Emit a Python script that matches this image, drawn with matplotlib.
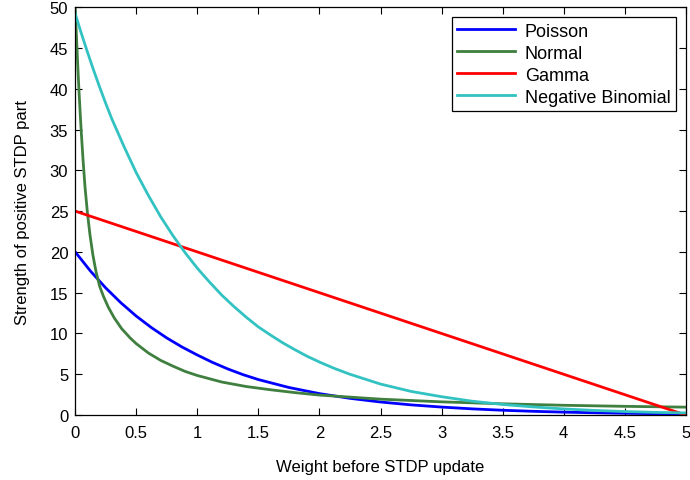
import numpy as np
import matplotlib
matplotlib.use('Agg')
import matplotlib.pyplot as plt

# values
x_poisson = [0, 0.125, 0.25, 0.375, 0.5, 0.625, 0.75, 0.875, 1, 1.125, 1.25, 1.375, 1.5, 1.75, 2, 2.25, 2.5,
             2.75, 3, 3.25, 3.5, 3.75, 4, 4.25, 4.5, 4.75, 5]
y_poisson = [20, 17.65, 15.58, 13.75, 12.13, 10.71, 9.45, 8.34, 7.36, 6.45, 5.65, 4.95, 4.35, 3.38, 2.63, 2.05,
             1.6, 1.25, 0.98, 0.76, 0.59, 0.46, 0.36, 0.28, 0.22, 0.17, 0.13]

x_normal = [0, 0.005, 0.01, 0.02, 0.03, 0.04, 0.05, 0.065, 0.08, 0.1, 0.12, 0.145, 0.17, 0.2, 0.23, 0.27,
            0.32, 0.38, 0.45, 0.5, 0.6, 0.7, 0.8, 0.9, 1, 1.2, 1.4, 1.6, 1.8, 2, 2.5, 3, 3.5, 4, 4.5, 5]
y_normal = [50, 48.2, 46.5, 43.1, 40.0, 37.2, 34.6, 31.1, 28.0, 24.8, 22.2, 19.6, 17.6, 15.8, 14.6, 13.25,
            11.9, 10.6, 9.45, 8.75, 7.6, 6.7, 6.0, 5.35, 4.85, 4.05, 3.5, 3.1, 2.75, 2.45, 1.95, 1.62, 1.38,
            1.2, 1.07, 0.97]

x_gamma = [0, 5]
y_gamma = [25, 0]

x_negbin = [0, 0.05, 0.1, 0.15, 0.2, 0.25, 0.3, 0.35, 0.4, 0.45, 0.5, 0.6, 0.7, 0.8, 0.9, 1, 1.1, 1.2, 1.3,
            1.4, 1.5, 1.6, 1.7, 1.8, 1.9, 2, 2.125, 2.25, 2.375, 2.5, 2.75, 3, 3.25, 3.5, 3.75, 4, 4.25, 4.5,
            4.75, 5]
y_negbin = [49.2, 46.8, 44.5, 42.3, 40.2, 38.2, 36.3, 34.6, 32.9, 31.3, 29.7, 26.9, 24.3, 22.0, 19.9, 18.0,
            16.3, 14.7, 13.3, 12.0, 10.8, 9.8, 8.85, 8.0, 7.2, 6.5, 5.7, 5.0, 4.4, 3.8, 2.9, 2.25, 1.7, 1.3,
            1.0, 0.75, 0.57, 0.43, 0.33, 0.26]

plt.rcParams['font.family'] = ['Liberation Sans', 'DejaVu Sans']
plt.rcParams['font.size'] = 12

fig = plt.figure(figsize=(6.9, 4.81), dpi=100)
ax = fig.add_axes([0.109, 0.135, 0.885, 0.848])

lw = 2.0
ax.plot(x_poisson, y_poisson, color='#0000ff', lw=lw, label='Poisson')
ax.plot(x_normal, y_normal, color='#3f7f3f', lw=lw, label='Normal')
ax.plot(x_gamma, y_gamma, color='#ff0000', lw=lw, label='Gamma')
ax.plot(x_negbin, y_negbin, color='#33c2c2', lw=lw, label='Negative Binomial')

ax.set_xlim(0, 5)
ax.set_ylim(0, 50)
ax.set_xticks(np.arange(0, 5.01, 0.5))
ax.set_xticklabels(['0', '0.5', '1', '1.5', '2', '2.5', '3', '3.5', '4', '4.5', '5'])
ax.set_yticks(np.arange(0, 51, 5))
ax.tick_params(direction='in', top=True, right=True, length=5, width=0.8, labelsize=12)
ax.tick_params(axis='x', pad=7)
ax.tick_params(axis='y', pad=5)
for s in ax.spines.values():
    s.set_linewidth(0.9)

ax.set_xlabel('Weight before STDP update', fontsize=12, labelpad=14)
ax.set_ylabel('Strength of positive STDP part', fontsize=12, labelpad=14)

leg = ax.legend(loc='upper right', fancybox=False, edgecolor='black', framealpha=1,
                fontsize=13, handlelength=3.2, borderaxespad=0.55, labelspacing=0.28,
                borderpad=0.3, handletextpad=0.55)
leg.get_frame().set_linewidth(0.9)

fig.savefig('out.png', dpi=100)
